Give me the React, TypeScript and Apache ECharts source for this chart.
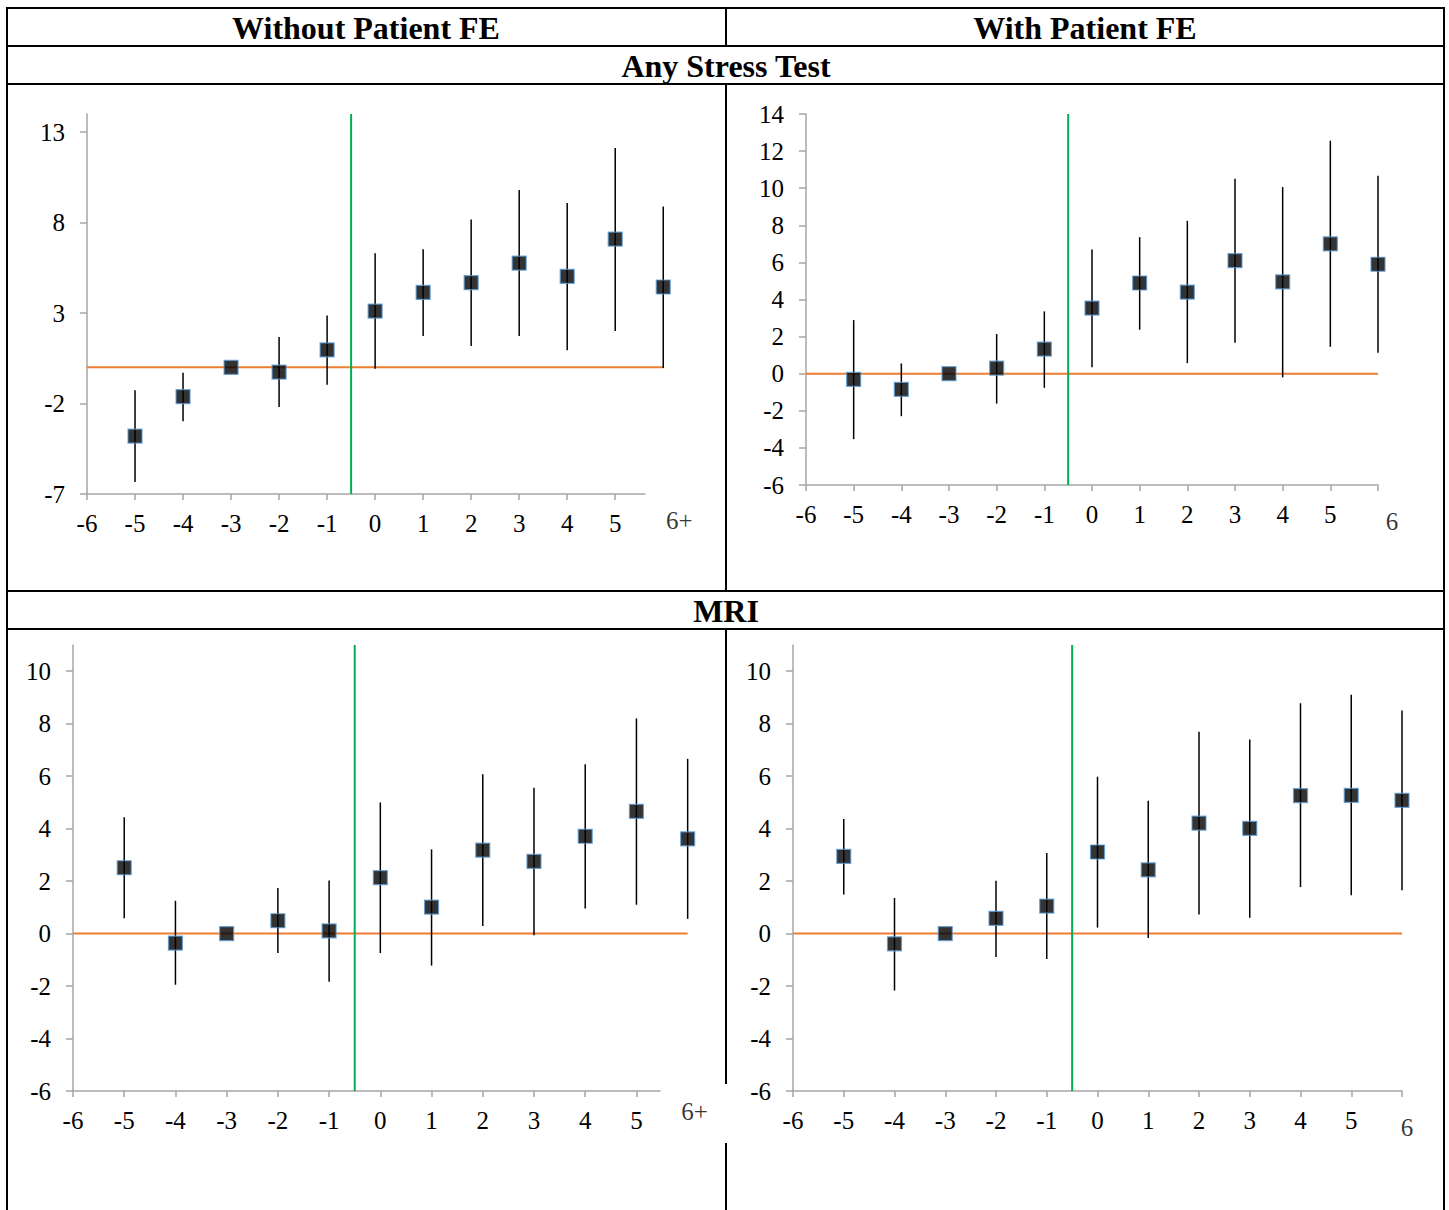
import React, { useEffect, useRef } from "react";
import * as echarts from "echarts";

// Event-time periods (reference period is -3; last bin is 6 / 6+)
const periods = [-5, -4, -3, -2, -1, 0, 1, 2, 3, 4, 5, 6];

// Any Stress Test, without patient fixed effects
const stressNoFE = [-3.8, -1.62, 0, -0.26, 0.96, 3.11, 4.14, 4.68, 5.76, 5.03, 7.09, 4.44];
const stressNoFELo = [-6.34, -2.98, null, -2.19, -0.96, -0.08, 1.73, 1.18, 1.73, 0.94, 2.01, -0.04];
const stressNoFEHi = [-1.27, -0.3, null, 1.67, 2.87, 6.31, 6.52, 8.17, 9.8, 9.08, 12.12, 8.89];

// Any Stress Test, with patient fixed effects
const stressFE = [-0.31, -0.85, 0, 0.3, 1.33, 3.54, 4.89, 4.4, 6.1, 4.95, 7.0, 5.9];
const stressFELo = [-3.53, -2.29, null, -1.61, -0.76, 0.35, 2.37, 0.57, 1.67, -0.2, 1.45, 1.13];
const stressFEHi = [2.89, 0.55, null, 2.14, 3.36, 6.69, 7.36, 8.24, 10.51, 10.06, 12.56, 10.67];

// MRI, without patient fixed effects
const mriNoFE = [2.51, -0.36, 0, 0.49, 0.1, 2.13, 1.01, 3.18, 2.75, 3.71, 4.66, 3.61];
const mriNoFELo = [0.58, -1.95, null, -0.74, -1.84, -0.74, -1.22, 0.29, -0.06, 0.96, 1.1, 0.56];
const mriNoFEHi = [4.43, 1.25, null, 1.74, 2.02, 5.0, 3.21, 6.07, 5.56, 6.45, 8.2, 6.66];

// MRI, with patient fixed effects
const mriFE = [2.94, -0.39, 0, 0.58, 1.05, 3.11, 2.43, 4.21, 4.01, 5.26, 5.27, 5.08];
const mriFELo = [1.49, -2.17, null, -0.89, -0.97, 0.23, -0.17, 0.73, 0.6, 1.77, 1.46, 1.65];
const mriFEHi = [4.37, 1.36, null, 2.01, 3.07, 5.98, 5.06, 7.69, 7.4, 8.78, 9.1, 8.5];

// Tick values and labels
const xTickValues = [-6, -5, -4, -3, -2, -1, 0, 1, 2, 3, 4, 5];
const xTickValuesFull = [-6, -5, -4, -3, -2, -1, 0, 1, 2, 3, 4, 5, 6];
const yTicksStressNoFE = [-7, -2, 3, 8, 13];
const yTicksStressFE = [-6, -4, -2, 0, 2, 4, 6, 8, 10, 12, 14];
const yTicksMri = [-6, -4, -2, 0, 2, 4, 6, 8, 10];
const lastLabelOpen = "6+";
const lastLabelClosed = "6";

// Column and row headings
const colHeads = ["Without Patient FE", "With Patient FE"];
const rowHeads = ["Any Stress Test", "MRI"];

const eventLine = -0.5;
const zeroSpan = [-6, 6];

const SERIF = "Liberation Serif, Times New Roman, serif";
const AXIS_GRAY = "#a6a6a6";
const ORANGE = "#ed7d31";
const GREEN = "#00b050";
const MARK_BORDER = "#5b9bd5";

type PanelCfg = {
  grid: { left: number; top: number; width: number; height: number };
  xMax: number;
  yMin: number;
  yMax: number;
  yTicks: number[];
  xTicks: number[];
  est: number[];
  lo: (number | null)[];
  hi: (number | null)[];
  lastLabel: string;
  lastOffset: [number, number];
};

// Straight segment between two data points, drawn through the axis scales
function segmentSeries(i: number, pts: number[][], color: string, width: number, z: number) {
  return {
    type: "custom",
    xAxisIndex: i,
    yAxisIndex: i,
    clip: false,
    silent: true,
    data: [pts[0].concat(pts[1])],
    encode: { x: [0, 2], y: [1, 3] },
    renderItem: (_params: any, api: any) => {
      const a = api.coord([api.value(0), api.value(1)]);
      const b = api.coord([api.value(2), api.value(3)]);
      return {
        type: "line",
        shape: { x1: a[0], y1: a[1], x2: b[0], y2: b[1] },
        style: { stroke: color, lineWidth: width },
      };
    },
    z,
  };
}

function buildPanel(i: number, c: PanelCfg) {
  const grid = { ...c.grid, containLabel: false };
  const labelStyle = { color: "#000", fontFamily: SERIF, fontSize: 25 };
  const xAxis = {
    type: "value",
    gridIndex: i,
    min: -6,
    max: c.xMax,
    position: "bottom",
    axisLine: { show: true, onZero: false, lineStyle: { color: AXIS_GRAY, width: 1.5 } },
    axisTick: { show: true, length: 6, customValues: c.xTicks, lineStyle: { color: AXIS_GRAY, width: 1.5 } },
    axisLabel: { ...labelStyle, margin: 17, customValues: xTickValues },
    splitLine: { show: false },
  };
  const yAxis = {
    type: "value",
    gridIndex: i,
    min: c.yMin,
    max: c.yMax,
    axisLine: { show: true, onZero: false, lineStyle: { color: AXIS_GRAY, width: 1.5 } },
    axisTick: { show: true, length: 7, customValues: c.yTicks, lineStyle: { color: AXIS_GRAY, width: 1.5 } },
    axisLabel: { ...labelStyle, margin: 22, customValues: c.yTicks },
    splitLine: { show: false },
  };

  const bars = periods
    .map((p, k) => (c.lo[k] == null ? null : [p, c.lo[k], c.hi[k]]))
    .filter((d) => d != null);

  const series = [
    segmentSeries(i, [[zeroSpan[0], 0], [zeroSpan[1], 0]], ORANGE, 2, 2),
    segmentSeries(i, [[eventLine, c.yMin], [eventLine, c.yMax]], GREEN, 2, 3),
    {
      type: "custom",
      xAxisIndex: i,
      yAxisIndex: i,
      clip: false,
      silent: true,
      data: bars,
      encode: { x: 0, y: [1, 2] },
      renderItem: (_params: any, api: any) => {
        const a = api.coord([api.value(0), api.value(1)]);
        const b = api.coord([api.value(0), api.value(2)]);
        return {
          type: "line",
          shape: { x1: a[0], y1: a[1], x2: b[0], y2: b[1] },
          style: { stroke: "#000", lineWidth: 1.5 },
        };
      },
      z: 4,
    },
    {
      type: "scatter",
      xAxisIndex: i,
      yAxisIndex: i,
      clip: false,
      silent: true,
      data: periods.map((p, k) => [p, c.est[k]]),
      symbol: "rect",
      symbolSize: 14,
      itemStyle: { color: "#000", borderColor: MARK_BORDER, borderWidth: 1.2 },
      z: 5,
    },
    {
      // label for the final period bin
      type: "scatter",
      xAxisIndex: i,
      yAxisIndex: i,
      clip: false,
      silent: true,
      data: [[periods[periods.length - 1], c.yMin]],
      symbolSize: 1,
      itemStyle: { color: "rgba(0,0,0,0)" },
      label: {
        show: true,
        position: "inside",
        offset: c.lastOffset,
        formatter: c.lastLabel,
        color: "#000",
        fontFamily: SERIF,
        fontSize: 25,
      },
      z: 5,
    },
  ];
  return { grid, xAxis, yAxis, series };
}

function tableGraphics() {
  const stroke = { stroke: "#000", lineWidth: 2 };
  const seg = (x1: number, y1: number, x2: number, y2: number) => ({
    type: "line",
    shape: { x1, y1, x2, y2 },
    style: stroke,
    silent: true,
    z: 10,
  });
  const head = (text: string, x: number, y: number) => ({
    type: "text",
    x,
    y,
    style: {
      text,
      fill: "#000",
      fontFamily: SERIF,
      fontWeight: "bold",
      fontSize: 32,
      align: "center",
      verticalAlign: "middle",
    },
    silent: true,
    z: 10,
  });
  return [
    seg(6, 8, 1445, 8),
    seg(6, 46, 1445, 46),
    seg(6, 84, 1445, 84),
    seg(6, 591, 1445, 591),
    seg(6, 629, 1445, 629),
    seg(7, 7, 7, 1210),
    seg(1444, 7, 1444, 1210),
    seg(726, 8, 726, 46),
    seg(726, 84, 726, 591),
    seg(726, 629, 726, 1084),
    seg(726, 1143, 726, 1210),
    head(colHeads[0], 366, 28),
    head(colHeads[1], 1085, 28),
    head(rowHeads[0], 726, 66),
    head(rowHeads[1], 726, 611),
  ];
}

export default function App() {
  const ref = useRef<HTMLDivElement>(null);

  useEffect(() => {
    if (!ref.current) return;
    const chart = echarts.init(ref.current, undefined, { renderer: "svg" });

    const panels: PanelCfg[] = [
      {
        grid: { left: 87, top: 114, width: 558, height: 380 },
        xMax: 5.62,
        yMin: -7,
        yMax: 14,
        yTicks: yTicksStressNoFE,
        xTicks: xTickValues,
        est: stressNoFE,
        lo: stressNoFELo,
        hi: stressNoFEHi,
        lastLabel: lastLabelOpen,
        lastOffset: [16, 26],
      },
      {
        grid: { left: 806, top: 114, width: 572, height: 371 },
        xMax: 6,
        yMin: -6,
        yMax: 14,
        yTicks: yTicksStressFE,
        xTicks: xTickValuesFull,
        est: stressFE,
        lo: stressFELo,
        hi: stressFEHi,
        lastLabel: lastLabelClosed,
        lastOffset: [14, 36],
      },
      {
        grid: { left: 73, top: 645, width: 587, height: 446 },
        xMax: 5.46,
        yMin: -6,
        yMax: 11,
        yTicks: yTicksMri,
        xTicks: xTickValues,
        est: mriNoFE,
        lo: mriNoFELo,
        hi: mriNoFEHi,
        lastLabel: lastLabelOpen,
        lastOffset: [7, 20],
      },
      {
        grid: { left: 793, top: 645, width: 609, height: 446 },
        xMax: 6,
        yMin: -6,
        yMax: 11,
        yTicks: yTicksMri,
        xTicks: xTickValuesFull,
        est: mriFE,
        lo: mriFELo,
        hi: mriFEHi,
        lastLabel: lastLabelClosed,
        lastOffset: [5, 36],
      },
    ];

    const built = panels.map((p, i) => buildPanel(i, p));

    chart.setOption({
      animation: false,
      backgroundColor: "#fff",
      grid: built.map((b) => b.grid),
      xAxis: built.map((b) => b.xAxis),
      yAxis: built.map((b) => b.yAxis),
      series: built.flatMap((b) => b.series),
      graphic: tableGraphics(),
    });

    return () => chart.dispose();
  }, []);

  return (
    <div
      ref={ref}
      style={{ position: "absolute", left: 0, top: 0, width: 1449, height: 1210 }}
    />
  );
}
